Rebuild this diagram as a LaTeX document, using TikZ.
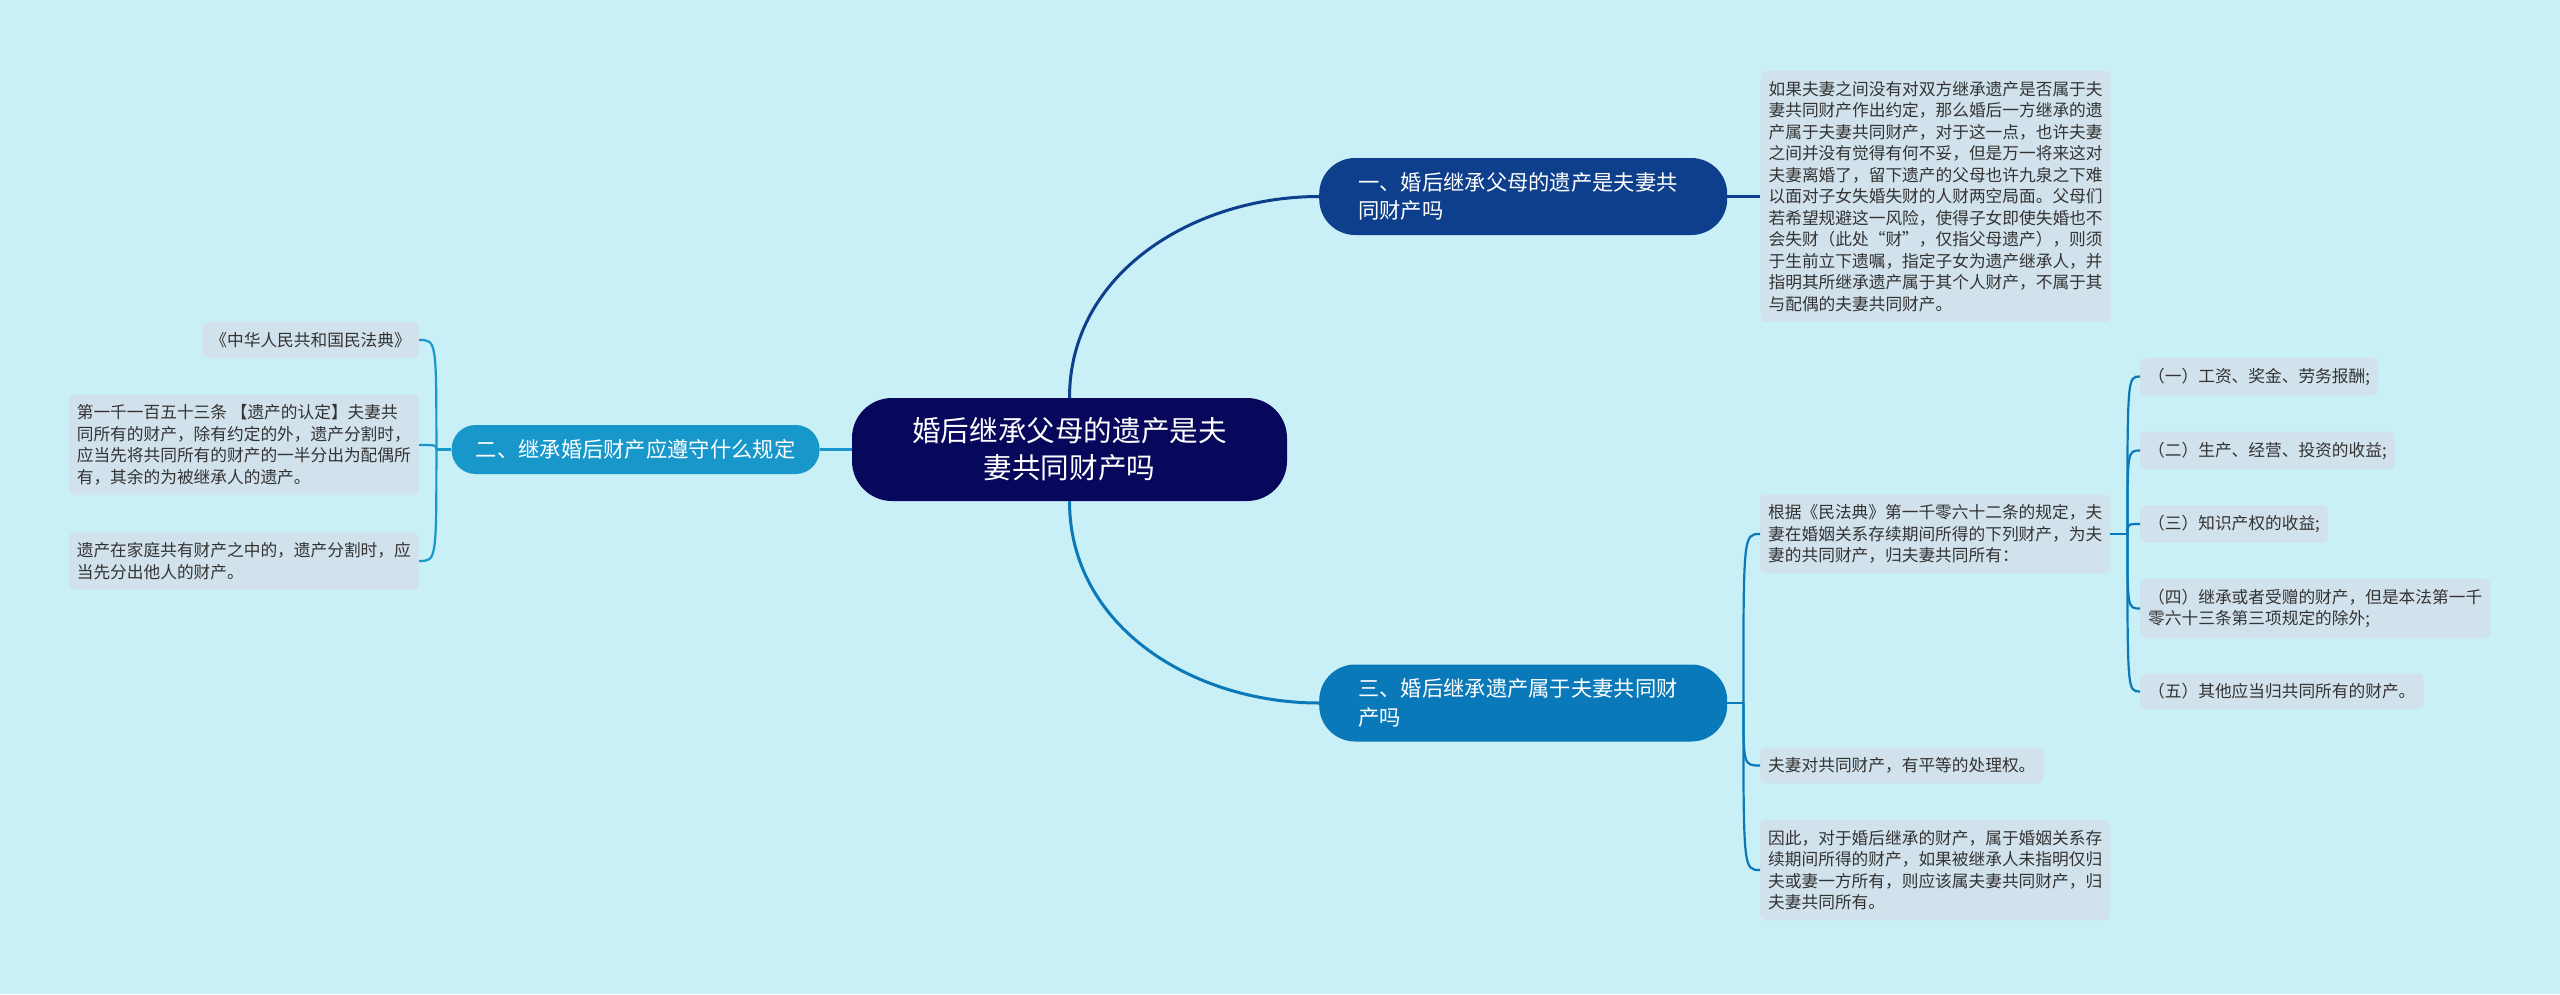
\documentclass[tikz,border=0pt]{standalone}
\usepackage{fontspec}
\newfontfamily\cjk{Noto Sans CJK SC}
\usetikzlibrary{positioning}
\definecolor{bgcol}{HTML}{C9EFF7}
\definecolor{rootcol}{HTML}{07075C}
\definecolor{onecol}{HTML}{0D3F8C}
\definecolor{twocol}{HTML}{1898CA}
\definecolor{threecol}{HTML}{0A79B9}
\definecolor{leafcol}{HTML}{D2E2EC}
\definecolor{leaftext}{HTML}{333333}

\begin{document}
\begin{tikzpicture}[x=1pt, y=-1pt, root/.style={fill=rootcol, text=white, rounded corners=40pt, align=center, minimum width=435pt, minimum height=103pt, font=\cjk\fontsize{28.6}{37}\selectfont}, branch/.style={text=white, rounded corners=36pt, align=left, text width=330pt, inner xsep=39pt, minimum height=77pt, font=\cjk\fontsize{21.3}{28.3}\selectfont}, leaf/.style={fill=leafcol, text=leaftext, rounded corners=5pt, align=left, inner xsep=8pt, inner ysep=10pt, font=\cjk\fontsize{16.7}{21.5}\selectfont}, link/.style={line width=3pt}, sublink/.style={line width=2.2pt}]
\fill[bgcol] (0,0) rectangle (2560,994);
\useasboundingbox (0,0) rectangle (2560,994);
\node[root] (c) at (1069.5,449.5) {婚后继承父母的遗产是夫\\妻共同财产吗};
\node[branch, fill=onecol, anchor=west] (b1) at (1319,196.5) {一、婚后继承父母的遗产是夫妻共\\同财产吗};
\node[branch, fill=twocol, left=32pt of c, align=center, text width=, inner xsep=10pt, rounded corners=24pt, minimum width=368pt, minimum height=49pt] (b2) {二、继承婚后财产应遵守什么规定};
\node[branch, fill=threecol, anchor=west] (b3) at (1319,703) {三、婚后继承遗产属于夫妻共同财\\产吗};
% branch one
\node[leaf, right=33pt of b1] (l11) {如果夫妻之间没有对双方继承遗产是否属于夫\\妻共同财产作出约定，那么婚后一方继承的遗\\产属于夫妻共同财产，对于这一点，也许夫妻\\之间并没有觉得有何不妥，但是万一将来这对\\夫妻离婚了，留下遗产的父母也许九泉之下难\\以面对子女失婚失财的人财两空局面。父母们\\若希望规避这一风险，使得子女即使失婚也不\\会失财（此处“财”，仅指父母遗产），则须\\于生前立下遗嘱，指定子女为遗产继承人，并\\指明其所继承遗产属于其个人财产，不属于其\\与配偶的夫妻共同财产。};
% branch two
\node[leaf, anchor=east] (l21) at (419,340) {《中华人民共和国民法典》};
\node[leaf, anchor=east] (l22) at (419,445) {第一千一百五十三条 【遗产的认定】夫妻共\\同所有的财产，除有约定的外，遗产分割时，\\应当先将共同所有的财产的一半分出为配偶所\\有，其余的为被继承人的遗产。};
\node[leaf, anchor=east] (l23) at (419,561) {遗产在家庭共有财产之中的，遗产分割时，应\\当先分出他人的财产。};
% branch three
\node[leaf, anchor=west] (l31) at (1760,534) {根据《民法典》第一千零六十二条的规定，夫\\妻在婚姻关系存续期间所得的下列财产，为夫\\妻的共同财产，归夫妻共同所有：};
\node[leaf, anchor=west] (l32) at (1760,765.5) {夫妻对共同财产，有平等的处理权。};
\node[leaf, anchor=west] (l33) at (1760,870) {因此，对于婚后继承的财产，属于婚姻关系存\\续期间所得的财产，如果被继承人未指明仅归\\夫或妻一方所有，则应该属夫妻共同财产，归\\夫妻共同所有。};
\node[leaf, anchor=west] (s1) at (2140,376.5) {（一）工资、奖金、劳务报酬;};
\node[leaf, anchor=west] (s2) at (2140,450.5) {（二）生产、经营、投资的收益;};
\node[leaf, anchor=west] (s3) at (2140,524) {（三）知识产权的收益;};
\node[leaf, anchor=west] (s4) at (2140,608.5) {（四）继承或者受赠的财产，但是本法第一千\\零六十三条第三项规定的除外;};
\node[leaf, anchor=west] (s5) at (2140,691.5) {（五）其他应当归共同所有的财产。};
\coordinate[left=15pt of b2.west] (j2);
\coordinate[right=16pt of b3.east] (j3);
\coordinate[right=17pt of l31.east] (j31);
% connectors
\draw[link, onecol] (c.north) to[out=90, in=180] (b1.west);
\draw[link, twocol] (c.west) -- (b2.east);
\draw[link, threecol] (c.south) to[out=-90, in=180] (b3.west);
\draw[sublink, onecol] (b1.east) -- (l11.west);
\draw[sublink, twocol] (b2.west) -- (j2);
\draw[sublink, twocol] (j2) .. controls (j2 |- l21.east) .. (l21.east);
\draw[sublink, twocol] (j2) .. controls (j2 |- l22.east) .. (l22.east);
\draw[sublink, twocol] (j2) .. controls (j2 |- l23.east) .. (l23.east);
\draw[sublink, threecol] (b3.east) -- (j3);
\draw[sublink, threecol] (j3) .. controls (j3 |- l31.west) .. (l31.west);
\draw[sublink, threecol] (j3) .. controls (j3 |- l32.west) .. (l32.west);
\draw[sublink, threecol] (j3) .. controls (j3 |- l33.west) .. (l33.west);
\draw[sublink, threecol] (l31.east) -- (j31);
\draw[sublink, threecol] (j31) .. controls (j31 |- s1.west) .. (s1.west);
\draw[sublink, threecol] (j31) .. controls (j31 |- s2.west) .. (s2.west);
\draw[sublink, threecol] (j31) .. controls (j31 |- s3.west) .. (s3.west);
\draw[sublink, threecol] (j31) .. controls (j31 |- s4.west) .. (s4.west);
\draw[sublink, threecol] (j31) .. controls (j31 |- s5.west) .. (s5.west);
\end{tikzpicture}
\end{document}
